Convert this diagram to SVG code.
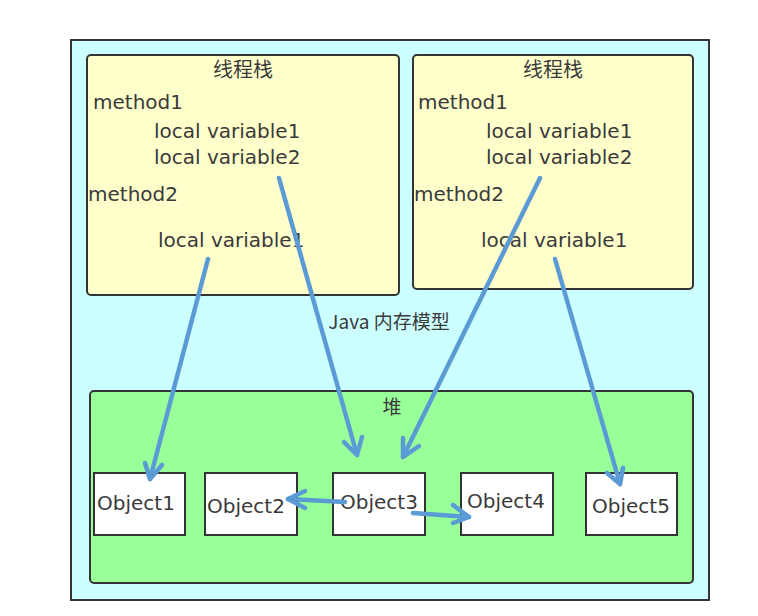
<svg xmlns="http://www.w3.org/2000/svg" width="758" height="616" viewBox="0 0 758 616">
<style>
  .t { font-family: "DejaVu Sans", "Noto Sans CJK SC", sans-serif; font-size: 20px; fill: #3a3a3a; }
  .cjk { font-family: "Noto Sans CJK SC", "Noto Sans", sans-serif; font-size: 19px; fill: #3a3a3a; }
  .box { stroke: #333; stroke-width: 2; }
  .obj { fill: #ffffff; stroke: #333; stroke-width: 2; }
  .conn path { fill: none; stroke: #5b9bd5; stroke-width: 4.5; stroke-linecap: round; stroke-linejoin: round; }
</style>
<rect width="758" height="616" fill="#ffffff"/>
<g id="outer">
  <rect x="71" y="40" width="638" height="560" fill="#ccffff" class="box"/>
  <text class="cjk" x="389" y="329" text-anchor="middle">Java 内存模型</text>
</g>
<g id="stack1">
  <rect x="87" y="55" width="312" height="240" rx="4" fill="#ffffcc" class="box"/>
  <text class="cjk" x="243" y="77" text-anchor="middle" style="font-size:20px">线程栈</text>
  <text class="t" x="93" y="109">method1</text>
  <text class="t" x="154" y="138">local variable1</text>
  <text class="t" x="154" y="164">local variable2</text>
  <text class="t" x="88" y="201">method2</text>
  <text class="t" x="158" y="247">local variable1</text>
</g>
<g id="stack2">
  <rect x="413" y="55" width="280" height="234" rx="4" fill="#ffffcc" class="box"/>
  <text class="cjk" x="553" y="77" text-anchor="middle" style="font-size:20px">线程栈</text>
  <text class="t" x="418" y="109">method1</text>
  <text class="t" x="486" y="138">local variable1</text>
  <text class="t" x="486" y="164">local variable2</text>
  <text class="t" x="414" y="201">method2</text>
  <text class="t" x="481" y="247">local variable1</text>
</g>
<g id="heap">
  <rect x="90" y="391" width="603" height="192" rx="4" fill="#99ff99" class="box"/>
  <text class="cjk" x="392" y="414" text-anchor="middle">堆</text>
</g>
<g id="object1">
  <rect x="94" y="473" width="91" height="62" class="obj"/>
  <text class="t" x="97" y="510">Object1</text>
</g>
<g id="object2">
  <rect x="205" y="473" width="92" height="62" class="obj"/>
  <text class="t" x="207" y="513">Object2</text>
</g>
<g id="object3">
  <rect x="333" y="473" width="92" height="62" class="obj"/>
  <text class="t" x="340" y="509">Object3</text>
</g>
<g id="object4">
  <rect x="461" y="473" width="92" height="62" class="obj"/>
  <text class="t" x="467" y="508">Object4</text>
</g>
<g id="object5">
  <rect x="586" y="473" width="91" height="62" class="obj"/>
  <text class="t" x="592" y="513">Object5</text>
</g>
<g id="connectors" class="conn">
  <path d="M208,259 L150,479"/>
  <path d="M145,463 L150,479 L162,465"/>
  <path d="M279,178 L357,455"/>
  <path d="M344,442 L357,455 L362,437"/>
  <path d="M540,178 L403,457"/>
  <path d="M403,438 L403,457 L419,446"/>
  <path d="M555,259 L620,484"/>
  <path d="M607,473 L620,484 L623,468"/>
  <path d="M345,502 L288,499"/>
  <path d="M305,491 L288,499 L305,508"/>
  <path d="M413,513 L469,517"/>
  <path d="M453,505 L469,517 L453,523"/>
</g>
</svg>
